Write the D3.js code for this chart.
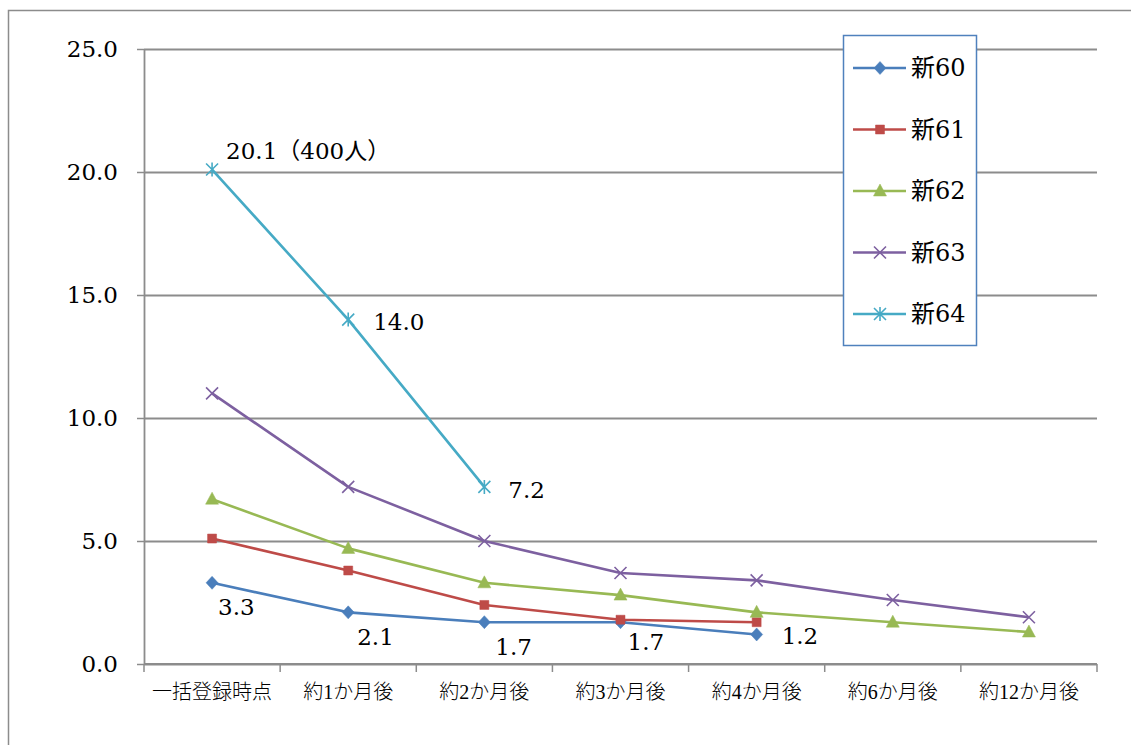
<!DOCTYPE html>
<html>
<head>
<meta charset="utf-8">
<script src="https://cdn.jsdelivr.net/npm/d3@7"></script>
<style>
  html, body { margin: 0; padding: 0; background: #fff; }
  svg { display: block; }
</style>
</head>
<body>
<svg id="chart" width="1131" height="745"></svg>
<script>
// Categories (time since bulk registration)
const categories = ["一括登録時点", "約1か月後", "約2か月後", "約3か月後", "約4か月後", "約6か月後", "約12か月後"];
const seriesNames = ["新60", "新61", "新62", "新63", "新64"];

// Series values (null = no observation yet)
const shin60 = [3.3, 2.1, 1.7, 1.7, 1.2, null, null];
const shin61 = [5.1, 3.8, 2.4, 1.8, 1.7, null, null];
const shin62 = [6.7, 4.7, 3.3, 2.8, 2.1, 1.7, 1.3];
const shin63 = [11.0, 7.2, 5.0, 3.7, 3.4, 2.6, 1.9];
const shin64 = [20.1, 14.0, 7.2, null, null, null, null];

const yTicks = [0, 5, 10, 15, 20, 25];

// Extra text appended to a value label
const labelSuffix64 = ["（400人）", "", ""];

// Label offsets (dx, dy from the point to the text start / baseline)
const labelOffsets60 = [[6, 32], [9, 33], [11, 33], [7, 28], [25, 10]];
const labelOffsets64 = [[14, -11], [25, 10], [24, 11]];

const colors = ["#4A7EBB", "#BE4B48", "#98B954", "#7D60A0", "#46AAC5"];
const markers = ["diamond", "square", "triangle", "cross", "star"];
const seriesValues = [shin60, shin61, shin62, shin63, shin64];

const numFont = "'DejaVu Serif', 'Noto Sans CJK JP', serif";
const catFont = "'Liberation Serif', 'Noto Sans CJK JP', serif";

const svg = d3.select("#chart");
svg.append("rect").attr("width", 1131).attr("height", 745).attr("fill", "#fff");

// Outer chart frame
svg.append("rect")
  .attr("x", 8.5).attr("y", 10.5)
  .attr("width", 1140).attr("height", 760)
  .attr("fill", "none").attr("stroke", "#8c8c8c").attr("stroke-width", 1.5);

const plot = { left: 144, right: 1097, top: 49, bottom: 664 };

const x = d3.scaleBand().domain(categories).range([plot.left, plot.right]).padding(0);
const cx = c => x(c) + x.bandwidth() / 2;
const y = d3.scaleLinear().domain([0, 25]).range([plot.bottom, plot.top]);

// Horizontal gridlines
svg.append("g")
  .attr("transform", `translate(${plot.left},0)`)
  .call(d3.axisLeft(y).tickValues(yTicks).tickSize(-(plot.right - plot.left)).tickFormat(""))
  .call(g => g.select(".domain").remove())
  .call(g => g.selectAll("line").attr("stroke", "#8c8c8c").attr("stroke-width", 1.8));

// Y axis
svg.append("g")
  .attr("transform", `translate(${plot.left},0)`)
  .call(d3.axisLeft(y).tickValues(yTicks).tickFormat(d3.format(".1f")).tickSizeInner(7).tickSizeOuter(0).tickPadding(19))
  .call(g => g.select(".domain").attr("stroke", "#8c8c8c").attr("stroke-width", 1.8))
  .call(g => g.selectAll("line").attr("stroke", "#8c8c8c").attr("stroke-width", 1.5))
  .call(g => g.selectAll("text")
    .attr("font-family", numFont).attr("font-size", 23).attr("fill", "#000"));

// X axis with tick marks on category boundaries
const xAxis = svg.append("g").attr("transform", `translate(0,${plot.bottom})`);
xAxis.append("line")
  .attr("x1", plot.left).attr("x2", plot.right)
  .attr("stroke", "#8c8c8c").attr("stroke-width", 1.8);
const edges = categories.map(c => x(c)).concat([x.range()[1]]);
xAxis.selectAll("line.tick")
  .data(edges).join("line").attr("class", "tick")
  .attr("x1", d => d).attr("x2", d => d)
  .attr("y1", 0).attr("y2", 8)
  .attr("stroke", "#8c8c8c").attr("stroke-width", 1.5);
xAxis.selectAll("text")
  .data(categories).join("text")
  .attr("x", d => cx(d)).attr("y", 35)
  .attr("text-anchor", "middle")
  .attr("font-family", catFont).attr("font-size", 20).attr("font-weight", 300)
  .attr("fill", "#000")
  .text(d => d);

// Marker shapes
function markerPath(type) {
  switch (type) {
    case "diamond": return "M0,-6.5L6,0L0,6.5L-6,0Z";
    case "square": return "M-4.5,-4.5H4.5V4.5H-4.5Z";
    case "triangle": return "M0,-7L6.5,5H-6.5Z";
    case "cross": return "M-6,-6L6,6M-6,6L6,-6";
    case "star": return "M-6,-6L6,6M-6,6L6,-6M0,-7V7";
  }
}
function drawMarker(sel, type, color) {
  const filled = type === "diamond" || type === "square" || type === "triangle";
  sel.append("path")
    .attr("d", markerPath(type))
    .attr("fill", filled ? color : "none")
    .attr("stroke", color)
    .attr("stroke-width", filled ? 0.5 : 1.6);
}

const line = d3.line()
  .defined(d => d.v !== null)
  .x(d => cx(d.c))
  .y(d => y(d.v));

seriesValues.forEach((vals, i) => {
  const pts = vals.map((v, j) => ({ c: categories[j], v }));
  const g = svg.append("g");
  g.append("path")
    .datum(pts)
    .attr("d", line)
    .attr("fill", "none")
    .attr("stroke", colors[i])
    .attr("stroke-width", 2.6)
    .attr("stroke-linejoin", "round");
  g.selectAll("g.mk")
    .data(pts.filter(d => d.v !== null))
    .join("g").attr("class", "mk")
    .attr("transform", d => `translate(${cx(d.c)},${y(d.v)})`)
    .each(function () { drawMarker(d3.select(this), markers[i], colors[i]); });
});

// Value labels
const fmt = d3.format(".1f");
function drawLabels(vals, offsets, suffix) {
  const pts = vals.map((v, j) => ({ c: categories[j], v, j })).filter(d => d.v !== null);
  svg.append("g").selectAll("text")
    .data(pts).join("text")
    .attr("x", d => cx(d.c) + offsets[d.j][0])
    .attr("y", d => y(d.v) + offsets[d.j][1])
    .attr("font-family", numFont).attr("font-size", 23).attr("fill", "#000")
    .text(d => fmt(d.v) + (suffix ? suffix[d.j] : ""));
}
drawLabels(shin60, labelOffsets60, null);
drawLabels(shin64, labelOffsets64, labelSuffix64);

// Legend
const legend = svg.append("g");
legend.append("rect")
  .attr("x", 843.5).attr("y", 35.5).attr("width", 133).attr("height", 310)
  .attr("fill", "#fff").attr("stroke", "#4F81BD").attr("stroke-width", 1.5);
const rowY = d3.scalePoint().domain(seriesNames).range([68, 314]);
seriesNames.forEach((name, i) => {
  const row = legend.append("g").attr("transform", `translate(0,${rowY(name)})`);
  row.append("line")
    .attr("x1", 853).attr("x2", 906)
    .attr("stroke", colors[i]).attr("stroke-width", 2.6);
  const mk = row.append("g").attr("transform", "translate(880,0)");
  drawMarker(mk, markers[i], colors[i]);
  row.append("text")
    .attr("x", 911).attr("y", 0).attr("dy", "0.35em")
    .attr("font-family", numFont).attr("font-size", 24).attr("fill", "#000")
    .text(name);
});
</script>
</body>
</html>
